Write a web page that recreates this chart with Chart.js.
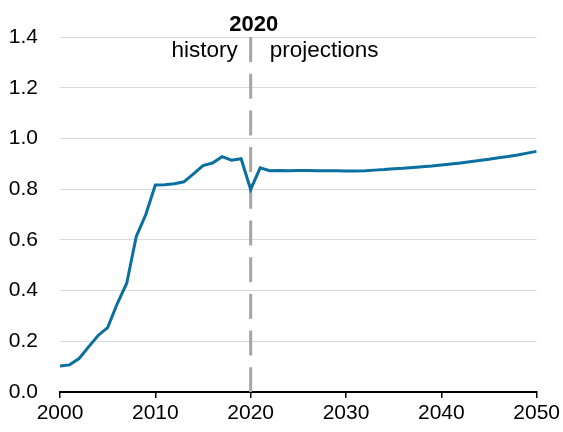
<!DOCTYPE html>
<html>
<head>
<meta charset="utf-8">
<script src="https://cdn.jsdelivr.net/npm/chart.js@4.4.0/dist/chart.umd.min.js"></script>
<style>
  html, body { margin: 0; padding: 0; background: #fff; }
  #wrap { width: 563px; height: 432px; position: relative; }
</style>
</head>
<body>
<div id="wrap"><canvas id="chart"></canvas></div>
<script>
// ==== DATA ====
const years = [];
for (let y = 2000; y <= 2050; y++) years.push(y);

const historyValues = [
  0.102, 0.107, 0.132, 0.178, 0.223, 0.254, 0.348, 0.429, 0.613, 0.700,
  0.816, 0.817, 0.821, 0.829, 0.860, 0.893, 0.903, 0.928, 0.914, 0.920,
  0.799
];
const projectionValues = [
  0.884, 0.873, 0.874, 0.873, 0.874, 0.874, 0.873, 0.873, 0.873, 0.872,
  0.872, 0.873, 0.875, 0.877, 0.880, 0.882, 0.885, 0.888, 0.891, 0.895,
  0.899, 0.903, 0.908, 0.913, 0.918, 0.924, 0.929, 0.935, 0.942, 0.949
];
const yTicks = [0, 0.2, 0.4, 0.6, 0.8, 1.0, 1.2, 1.4];
const xTicks = [2000, 2010, 2020, 2030, 2040, 2050];
const splitYear = 2020;
const splitLabel = "2020";
const leftLabel = "history";
const rightLabel = "projections";

const values = historyValues.concat(projectionValues);
const points = years.map((yr, i) => ({ x: yr, y: values[i] }));

const FONT = "'Liberation Sans', Arial, sans-serif";

// ==== DIVIDER + LABELS ====
const dividerPlugin = {
  id: "divider",
  beforeDatasetsDraw(chart) {
    const { ctx, chartArea, scales } = chart;
    const x = scales.x.getPixelForValue(splitYear);
    ctx.save();
    ctx.strokeStyle = "#a6a6a6";
    ctx.lineWidth = 3;
    ctx.setLineDash([25, 11.7]);
    ctx.beginPath();
    ctx.moveTo(x, chartArea.top);
    ctx.lineTo(x, chartArea.bottom);
    ctx.stroke();
    ctx.restore();
  },
  afterDraw(chart) {
    const { ctx, scales } = chart;
    const x = scales.x.getPixelForValue(splitYear);
    ctx.save();
    ctx.fillStyle = "#000";
    ctx.textBaseline = "alphabetic";
    ctx.font = "bold 22px " + FONT;
    ctx.textAlign = "center";
    ctx.fillText(splitLabel, x + 3, 31);
    ctx.font = "22.5px " + FONT;
    ctx.textAlign = "right";
    ctx.fillText(leftLabel, x - 13, 57);
    ctx.textAlign = "left";
    ctx.fillText(rightLabel, x + 19, 57);
    ctx.restore();
  }
};

// ==== CHART ====
new Chart(document.getElementById("chart"), {
  type: "line",
  data: {
    datasets: [{
      data: points,
      borderColor: "#0b6fa0",
      borderWidth: 3,
      pointRadius: 0,
      tension: 0,
      fill: false
    }]
  },
  options: {
    responsive: true,
    maintainAspectRatio: false,
    animation: false,
    layout: { padding: { top: 37, right: 26, left: 0, bottom: 0 } },
    plugins: { legend: { display: false }, tooltip: { enabled: false } },
    scales: {
      x: {
        type: "linear",
        min: 2000,
        max: 2050,
        afterBuildTicks(scale) { scale.ticks = xTicks.map(v => ({ value: v })); },
        afterFit(scale) { scale.height = 40; },
        border: { display: true, color: "#000", width: 2 },
        grid: { drawOnChartArea: false, drawTicks: true, tickLength: 6, color: "#000", lineWidth: 1.5 },
        ticks: { color: "#000", font: { family: FONT, size: 21 }, padding: 3, maxRotation: 0, callback: v => String(v) }
      },
      y: {
        min: 0,
        max: 1.4,
        afterBuildTicks(scale) { scale.ticks = yTicks.map(v => ({ value: v })); },
        afterFit(scale) { scale.width = 60; },
        border: { display: false },
        grid: { color: "#d9d9d9", lineWidth: 1, drawTicks: false },
        ticks: { color: "#000", font: { family: FONT, size: 21 }, padding: 22, callback: v => v.toFixed(1) }
      }
    }
  },
  plugins: [dividerPlugin]
});
</script>
</body>
</html>
